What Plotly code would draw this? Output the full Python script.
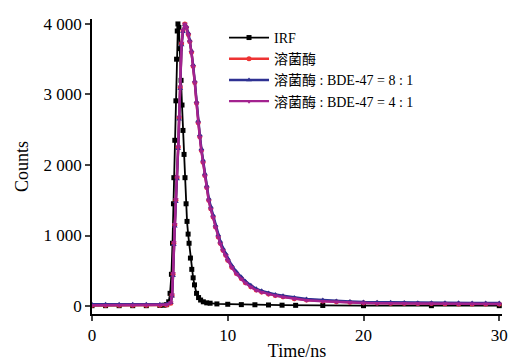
import plotly.graph_objects as go

# ---- data ----
irf_t = [0, 1, 2, 3, 4, 5, 5.3, 5.5, 5.65, 5.75, 5.85, 5.93, 6.0, 6.03, 6.1, 6.18, 6.23, 6.28,
         6.33, 6.4, 6.48, 6.56, 6.63, 6.7, 6.78, 6.85, 6.93, 7.0, 7.08, 7.15, 7.25, 7.35, 7.45,
         7.55, 7.7, 7.85, 8.0, 8.2, 8.45, 8.7, 9.2, 10, 11, 12, 13, 14, 15, 17, 20, 25, 30]
irf_c = [5, 5, 5, 5, 5, 8, 12, 20, 60, 180, 450, 890, 1450, 1820, 2350, 2910, 3500, 3900,
         4000, 3950, 3650, 3200, 2850, 2490, 2150, 1820, 1450, 1200, 1020, 890, 680, 520, 400,
         300, 180, 120, 85, 60, 45, 40, 30, 25, 20, 18, 15, 12, 10, 8, 5, 5, 5]

lyz_t = [0, 1, 2, 3, 4, 5, 5.5, 5.8, 5.9, 5.97, 6.03, 6.1, 6.18, 6.27, 6.35, 6.42, 6.5, 6.6,
         6.7, 6.84, 6.95, 7.1, 7.2, 7.33, 7.45, 7.57, 7.7, 7.82, 7.94, 8.06, 8.18, 8.31, 8.45,
         8.6, 8.75, 8.92, 9.1, 9.3, 9.45, 9.65, 9.85, 10.0, 10.3, 10.64, 11.0, 11.3, 11.7, 12.1,
         12.5, 13.0, 13.5, 14.07, 14.9, 15.8, 17, 18, 19, 20, 21, 22, 23, 24, 25, 26, 27, 28, 29, 30]
lyz_c = [10, 10, 10, 10, 10, 10, 15, 40, 150, 450, 890, 1150, 1500, 1820, 2250, 2670, 3100, 3720,
         3900, 4000, 3950, 3850, 3750, 3600, 3400, 3170, 2880, 2600, 2400, 2205, 2040, 1850, 1680,
         1500, 1380, 1262, 1120, 980, 890, 792, 720, 650, 550, 462, 390, 330, 275, 226,
         200, 170, 150, 131, 105, 85, 70, 60, 52, 45, 42, 40, 38, 35, 35, 32, 30, 30, 30, 30]

bde8_c = [25, 25, 25, 25, 25, 25, 30, 50, 140, 430, 870, 1130, 1480, 1800, 2230, 2650, 3080, 3700,
          3890, 3990, 3960, 3870, 3770, 3620, 3420, 3190, 2900, 2630, 2430, 2230, 2070, 1880, 1710,
          1530, 1410, 1290, 1150, 1010, 920, 820, 745, 675, 575, 485, 410, 350, 295, 245,
          215, 185, 165, 145, 120, 100, 85, 72, 65, 58, 55, 52, 50, 48, 47, 45, 45, 44, 44, 43]

bde4_c = [12, 12, 12, 12, 12, 12, 18, 45, 160, 460, 900, 1160, 1510, 1830, 2260, 2680, 3110, 3730,
          3910, 4000, 3950, 3850, 3745, 3595, 3395, 3165, 2870, 2590, 2390, 2195, 2030, 1840, 1670,
          1490, 1370, 1255, 1110, 970, 880, 785, 712, 642, 545, 455, 385, 325, 270, 222,
          196, 167, 147, 128, 102, 82, 68, 58, 50, 44, 40, 38, 36, 34, 33, 31, 30, 30, 29, 29]

names = ["IRF", "溶菌酶", "溶菌酶 : BDE-47 = 8 : 1", "溶菌酶 : BDE-47 = 4 : 1"]
colors = ["#000000", "#ee3333", "#2e3192", "#a3228f"]
symbols = ["square", "circle", "triangle-up", "triangle-down"]
widths = [1.8, 2.4, 2.4, 2.4]
xs = [irf_t, lyz_t, lyz_t, lyz_t]
ys = [irf_c, lyz_c, bde8_c, bde4_c]

y_ticks = [0, 1000, 2000, 3000, 4000]
y_ticktext = ["0", "1 000", "2 000", "3 000", "4 000"]
x_ticks = [0, 10, 20, 30]

FONT = '"Liberation Serif", "Times New Roman", "Noto Sans CJK SC", serif'

fig = go.Figure()
for x, y, n, c, s, w in zip(xs, ys, names, colors, symbols, widths):
    fig.add_trace(go.Scatter(
        x=x, y=y, name=n, mode="lines+markers",
        line=dict(color=c, width=w),
        marker=dict(color=c, symbol=s, size=5),
    ))

fig.update_layout(
    width=511, height=361,
    margin=dict(l=92, r=9, t=19, b=47),
    paper_bgcolor="white", plot_bgcolor="white",
    font=dict(family=FONT, size=17, color="black"),
    showlegend=True,
    legend=dict(x=0.322, y=0.99, xanchor="left", yanchor="top",
                bgcolor="rgba(0,0,0,0)", font=dict(family=FONT, size=14, color="black"),
                tracegroupgap=0, itemwidth=40),
    xaxis=dict(range=[0, 30.2], tickvals=x_ticks, ticks="outside", ticklen=5, tickwidth=1.5,
               showline=True, linecolor="black", linewidth=1.5, showgrid=False, zeroline=False,
               automargin=False,
               title=dict(text="Time/ns", font=dict(family=FONT, size=18, color="black"), standoff=0),
               tickfont=dict(family=FONT, size=17, color="black")),
    yaxis=dict(range=[-113, 4070], tickvals=y_ticks, ticktext=y_ticktext, ticks="outside",
               ticklen=5, tickwidth=1.5, showline=True, linecolor="black", linewidth=1.5,
               showgrid=False, zeroline=False, automargin=False,
               title=dict(text="Counts", font=dict(family=FONT, size=18, color="black"), standoff=10),
               tickfont=dict(family=FONT, size=17, color="black")),
)

fig.write_html("out.html", config={"displayModeBar": False},
               post_script="document.body.style.margin='0';document.body.style.overflow='hidden';")
